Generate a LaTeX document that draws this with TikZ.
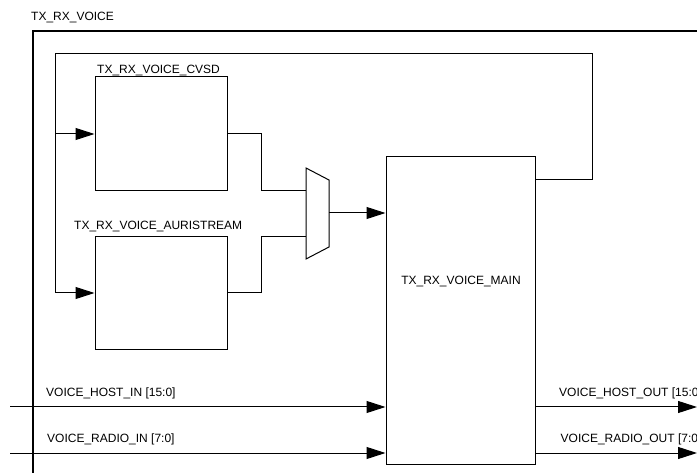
\documentclass[tikz,border=0pt]{standalone}
\usepackage{fontspec}
\setmainfont{Liberation Sans}
\usetikzlibrary{arrows.meta}
\begin{document}
\begin{tikzpicture}[x=1pt,y=-1pt,
  wire/.style={line width=1pt},
  sig/.style={wire,-{Triangle[length=19pt,width=12pt]}},
  blk/.style={draw,line width=1pt,inner sep=0pt,fill=white},
  lbl/.style={inner sep=0pt,anchor=base west,font=\fontsize{12}{14}\selectfont},
  clbl/.style={inner sep=0pt,font=\fontsize{12}{14}\selectfont}
]
\useasboundingbox (0,0) rectangle (697,473);
\clip (0,0) rectangle (697,473);
% outer block
\draw[line width=1.2pt] (33,480) -- (33,31) -- (705,31);
\node[lbl] (toplbl) at (31,21) {TX\_RX\_VOICE};
% blocks
\node[blk,minimum width=132pt,minimum height=114pt] (cvsd) at (161,134) {};
\node[lbl] (cvsdlbl) at (97,73.3) {TX\_RX\_VOICE\_CVSD};
\node[blk,minimum width=132pt,minimum height=113pt] (aur) at (161,293.5) {};
\node[lbl] (aurlbl) at (74,229.6) {TX\_RX\_VOICE\_AURISTREAM};
\node[blk,minimum width=149pt,minimum height=307pt] (main) at (460.5,310.5) {};
\node[clbl] (mainlbl) at (461,282) {TX\_RX\_VOICE\_MAIN};
% mux
\draw[wire,fill=white] (306,168) -- (329,180) -- (329,247) -- (306,259) -- cycle;
\coordinate (muxa) at (306,191);
\coordinate (muxb) at (306,237);
\coordinate (muxo) at (329,213);
% mux connections
\draw[wire] (cvsd.east) -- (261,134) |- (muxa);
\draw[wire] (aur.east |- 0,293) -- (261,293) |- (muxb);
\draw[sig] (muxo) -- (main.west |- muxo);
% feedback
\coordinate (fbsrc) at (main.east |- 0,180);
\draw[wire] (fbsrc) -- (592,180) -- (592,54) -- (55,54) -- (55,293);
\draw[sig] (55,293) -- (aur.west |- 0,293);
\draw[sig] (55,134) -- (cvsd.west);
% external I/O
\coordinate (hin) at (10,407);
\coordinate (rin) at (10,453);
\coordinate (hout) at (697,407);
\coordinate (rout) at (697,453);
\draw[sig] (hin) -- (main.west |- hin);
\draw[sig] (rin) -- (main.west |- rin);
\draw[sig] (main.east |- hout) -- (hout);
\draw[sig] (main.east |- rout) -- (rout);
\node[lbl] (hinlbl) at (46,396.6) {VOICE\_HOST\_IN [15:0]};
\node[lbl] (rinlbl) at (47,442.6) {VOICE\_RADIO\_IN [7:0]};
\node[lbl] (houtlbl) at (559,396.6) {VOICE\_HOST\_OUT [15:0]};
\node[lbl] (routlbl) at (560.5,442.6) {VOICE\_RADIO\_OUT [7:0]};
\end{tikzpicture}
\end{document}
